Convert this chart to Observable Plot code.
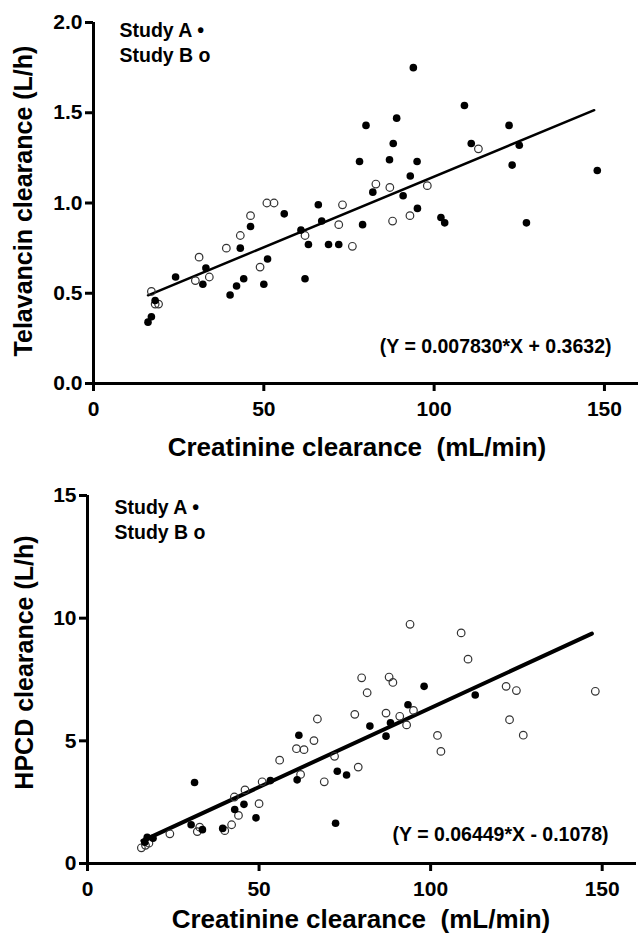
<!DOCTYPE html>
<html><head><meta charset="utf-8">
<script src="https://cdn.jsdelivr.net/npm/d3@7"></script>
<script src="https://cdn.jsdelivr.net/npm/@observablehq/plot@0.6"></script>
<style>
html,body{margin:0;padding:0;background:#fff;}
#chart{width:638px;}
svg{display:block;}
svg text{white-space:pre;}
</style></head><body><div id="chart"></div>
<script>
// ---- tick labels ----
const xTicks = [0, 50, 100, 150];
const telavancinTicks = [0, 0.5, 1.0, 1.5, 2.0];
const hpcdTicks = [0, 5, 10, 15];

// ---- titles / text ----
const xTitle = "Creatinine clearance  (mL/min)";
const telavancinTitle = "Telavancin clearance (L/h)";
const hpcdTitle = "HPCD clearance (L/h)";
const legendLabels = ["Study A \u2022", "Study B o"];
const telavancinEquation = "(Y = 0.007830*X + 0.3632)";
const hpcdEquation = "(Y = 0.06449*X - 0.1078)";

// ---- regression fits (from the printed equations) and fitted x range ----
const telavancinFit = {slope: 0.007830, intercept: 0.3632};
const hpcdFit = {slope: 0.06449, intercept: -0.1078};
const fitXRange = [16, 147];

// ---- Telavancin clearance: [CrCl, clearance] ----
const telavancinStudyA = [
  [16.0,0.34],[17.0,0.37],[18.1,0.46],[24.1,0.59],[33.0,0.64],[32.1,0.55],[40.1,0.49],[42.0,0.54],
  [44.1,0.58],[43.1,0.75],[46.1,0.87],[50.0,0.55],[51.1,0.69],[56.0,0.94],[60.9,0.85],[62.1,0.58],
  [63.1,0.77],[66.0,0.99],[67.0,0.90],[69.0,0.77],[72.0,0.77],[78.1,1.23],[79.0,0.88],[80.0,1.43],
  [82.0,1.06],[86.9,1.24],[88.0,1.33],[89.0,1.47],[90.9,1.04],[93.0,1.15],[93.9,1.75],[95.0,1.23],
  [95.1,0.97],[102.0,0.92],[103.1,0.89],[108.9,1.54],[110.9,1.33],[122.0,1.43],[122.9,1.21],
  [125.0,1.32],[127.1,0.89],[147.9,1.18]
];
const telavancinStudyB = [
  [17.0,0.51],[18.1,0.44],[19.1,0.44],[29.9,0.57],[31.0,0.70],[34.0,0.59],[39.0,0.75],[43.1,0.82],
  [46.1,0.93],[48.9,0.645],[50.9,1.00],[53.0,1.00],[62.1,0.82],[72.0,0.88],[73.1,0.99],[76.0,0.76],
  [82.9,1.105],[87.0,1.086],[87.8,0.90],[92.9,0.93],[98.0,1.096],[113.0,1.30]
];

// ---- HPCD clearance: [CrCl, clearance] ----
const hpcdStudyA = [
  [61.6,5.23],[82.3,5.60],[98.1,7.22],[113.0,6.87],[93.4,6.47],[88.3,5.74],[87.0,5.19],[31.2,3.30],
  [53.3,3.38],[61.1,3.41],[72.8,3.76],[75.5,3.61],[72.3,1.64],[45.6,2.41],[42.9,2.20],[49.1,1.86],
  [39.4,1.43],[30.2,1.58],[33.5,1.38],[17.4,1.07],[19.1,1.03],[16.7,0.87]
];
const hpcdStudyB = [
  [79.9,7.57],[81.5,6.96],[77.9,6.08],[67.0,5.89],[66.0,5.01],[60.9,4.68],[63.1,4.64],[56.0,4.21],
  [94.0,9.75],[108.9,9.40],[110.9,8.33],[87.9,7.60],[89.0,7.38],[122.0,7.22],[125.0,7.05],[148.0,7.02],
  [95.0,6.24],[87.0,6.13],[91.0,6.00],[93.0,5.65],[123.0,5.86],[102.0,5.22],[127.0,5.23],[103.0,4.57],
  [50.9,3.33],[62.1,3.63],[69.0,3.33],[78.9,3.93],[72.0,4.37],[45.9,3.00],[42.8,2.71],[50.0,2.44],
  [44.0,1.96],[42.0,1.58],[40.0,1.34],[32.0,1.30],[32.7,1.48],[24.0,1.21],[15.7,0.64],[17.9,0.83],
  [16.9,0.74]
];

const FONT = "'Liberation Sans', Arial, Helvetica, sans-serif";

function panel(cfg) {
  const fitLine = fitXRange.map(x => ({x, y: cfg.fit.slope * x + cfg.fit.intercept}));
  return Plot.plot({
    width: 638,
    height: cfg.height,
    marginTop: cfg.marginTop,
    marginBottom: cfg.marginBottom,
    marginLeft: cfg.marginLeft,
    marginRight: cfg.marginRight,
    style: {fontFamily: FONT, color: "#000", background: "#fff", overflow: "visible"},
    x: {domain: [0, 160]},
    y: {domain: cfg.yDomain},
    marks: [
      Plot.axisX(xTicks, {tickSize: 8, tickPadding: 10, fontSize: 21, fontWeight: "bold", strokeWidth: 3, label: null}),
      Plot.axisY(cfg.yTicks, {tickSize: 8, tickPadding: 3, fontSize: 21, fontWeight: "bold", strokeWidth: 3, label: null, tickFormat: cfg.tickFormat}),
      Plot.ruleX([0], {stroke: "#000", strokeWidth: 3}),
      Plot.ruleY([0], {stroke: "#000", strokeWidth: 3}),
      Plot.line(fitLine, {x: "x", y: "y", stroke: "#000", strokeWidth: cfg.lineWidth}),
      Plot.dot(cfg.studyB, {x: d => d[0], y: d => d[1], r: 3.8, stroke: "#333", strokeWidth: 1.2, fill: "none"}),
      Plot.dot(cfg.studyA, {x: d => d[0], y: d => d[1], r: 3.8, fill: "#000", stroke: null}),
      Plot.text([legendLabels[0]], {text: d => d, frameAnchor: "top-left", textAnchor: "start", lineAnchor: "middle", dx: cfg.legendDx, dy: cfg.legendDy[0], fontSize: 19.5, fontWeight: "bold"}),
      Plot.text([legendLabels[1]], {text: d => d, frameAnchor: "top-left", textAnchor: "start", lineAnchor: "middle", dx: cfg.legendDx, dy: cfg.legendDy[1], fontSize: 19.5, fontWeight: "bold"}),
      Plot.text([cfg.equation], {text: d => d, frameAnchor: "bottom-right", textAnchor: "end", lineAnchor: "middle", dx: cfg.eqDx, dy: cfg.eqDy, fontSize: 19.5, fontWeight: "bold"}),
      Plot.text([xTitle], {text: d => d, frameAnchor: "bottom", textAnchor: "middle", lineAnchor: "top", dx: cfg.xTitleDx, dy: cfg.xTitleDy, fontSize: 26, fontWeight: "bold"}),
      Plot.text([cfg.yTitle], {text: d => d, frameAnchor: "left", textAnchor: "middle", lineAnchor: "middle", rotate: -90, dx: cfg.yTitleDx, dy: cfg.yTitleDy, fontSize: 25, fontWeight: "bold"})
    ]
  });
}

const topPanel = panel({
  height: 470, marginTop: 22, marginBottom: 87, marginLeft: 93, marginRight: 0,
  yDomain: [0, 2], yTicks: telavancinTicks, tickFormat: d => d.toFixed(1),
  fit: telavancinFit, lineWidth: 2.5,
  studyA: telavancinStudyA, studyB: telavancinStudyB,
  legendDx: 26, legendDy: [8, 33],
  equation: telavancinEquation, eqDx: -27, eqDy: -37,
  xTitleDx: -9, xTitleDy: 54,
  yTitle: telavancinTitle, yTitleDx: -70, yTitleDy: -2
});
const bottomPanel = panel({
  height: 465, marginTop: 25, marginBottom: 72, marginLeft: 87, marginRight: 2,
  yDomain: [0, 15], yTicks: hpcdTicks, tickFormat: d => String(d),
  fit: hpcdFit, lineWidth: 4,
  studyA: hpcdStudyA, studyB: hpcdStudyB,
  legendDx: 27, legendDy: [12, 37],
  equation: hpcdEquation, eqDx: -28, eqDy: -29,
  xTitleDx: -1, xTitleDy: 46,
  yTitle: hpcdTitle, yTitleDx: -63, yTitleDy: -17
});
const chart = document.getElementById("chart");
chart.appendChild(topPanel);
chart.appendChild(bottomPanel);
</script>
</body></html>
